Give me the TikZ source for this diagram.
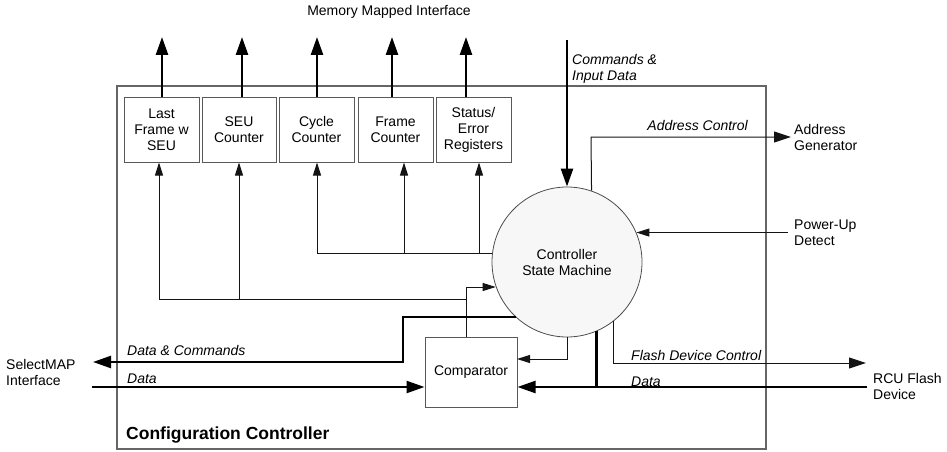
\documentclass[tikz,border=0pt]{standalone}
\usepackage{fontspec}
\setmainfont{Liberation Sans}
\usetikzlibrary{arrows.meta}
\begin{document}
\begin{tikzpicture}[x=1pt,y=-1pt,
  every node/.style={font=\fontsize{14}{16}\selectfont},
  regbox/.style={draw=black!65, line width=1pt, minimum width=75pt,
    minimum height=65pt, inner sep=0pt, align=center},
  txt/.style={inner sep=0pt, align=left},
  itxt/.style={inner sep=0pt, align=left, font=\fontsize{14}{16}\selectfont\itshape},
  wire/.style={draw=black!92, line width=1pt},
  bus/.style={draw=black, line width=2.4pt},
  tipS/.style={-{Triangle[length=13pt,width=8pt]}},
  tipM/.style={-{Triangle[length=17pt,width=11pt]}},
  tipL/.style={-{Triangle[length=18pt,width=12pt]}}
]
\useasboundingbox (0,0) rectangle (947,452);

% enclosing block
\node[draw=black!60, line width=1.3pt, minimum width=649pt, minimum height=363pt,
  inner sep=0pt] (frame) at (441.5,267.5) {};
\node[txt, anchor=west, font=\fontsize{17.5}{20}\selectfont\bfseries]
  (title) at (126,435) {Configuration Controller};

% registers
\node[regbox] (b1) at (161.5,129.5) {Last\\Frame w\\SEU};
\node[regbox, minimum width=74pt] (b2) at (239,129.5) {SEU\\Counter};
\node[regbox] (b3) at (316.5,129.5) {Cycle\\Counter};
\node[regbox] (b4) at (395.5,129.5) {Frame\\Counter};
\node[regbox] (b5) at (473.5,129.5) {Status/\\Error\\Registers};

% state machine and comparator
\node[circle, draw=black!70, fill=black!3, line width=0.8pt, minimum size=150pt,
  inner sep=0pt, align=center] (sm) at (567,262) {Controller\\State Machine};
\node[draw=black!65, line width=1pt, minimum width=92pt, minimum height=70pt,
  inner sep=0pt] (cmp) at (471,372) {Comparator};

% outside labels
\node[txt] (mmi) at (389,12) {Memory Mapped Interface};
\node[itxt, anchor=west] (cmdl) at (572,69) {Commands \&\\Input Data};
\node[itxt, anchor=east] (adcl) at (748,125) {Address Control};
\node[txt, anchor=west] (agen) at (794,137.5) {Address\\Generator};
\node[txt, anchor=west] (pud) at (794,232.5) {Power-Up\\Detect};
\node[txt, anchor=west] (smap) at (6,372) {SelectMAP\\Interface};
\node[txt, anchor=west] (rcu) at (873,386) {RCU Flash\\Device};
\node[itxt, anchor=west] (dcl) at (127,350) {Data \& Commands};
\node[itxt, anchor=west] (dinl) at (127,379) {Data};
\node[itxt, anchor=west] (fdcl) at (631,355) {Flash Device Control};
\node[itxt, anchor=west] (rdl) at (631,382) {Data};

% free ends and bends
\coordinate (m1) at (162,37);
\coordinate (m2) at (242,37);
\coordinate (m3) at (317,37);
\coordinate (m4) at (392,37);
\coordinate (m5) at (466,37);
\coordinate (cin) at (567,40);
\coordinate (k) at (466,287);
\coordinate (jc) at (466,299);
\coordinate (j1) at (159,299);
\coordinate (j2) at (239,299);
\coordinate (r3) at (317,253);
\coordinate (r4) at (404,253);
\coordinate (r5) at (479,253);
\coordinate (adr) at (591,137);
\coordinate (dcx) at (403,362);
\coordinate (dcend) at (93,362);
\coordinate (sdin) at (92,387);
\coordinate (cc) at (517,359);
\coordinate (fc) at (866,363);
\coordinate (rd) at (867,387);

% memory mapped outputs
\foreach \i in {1,...,5}
  \draw[bus, line width=2.6pt, tipL] (m\i |- b\i.north) -- (m\i);

% state machine to counters
\draw[wire, tipS] (r3 -| sm.173.1) -- (r3) -- (r3 |- b3.south);
\draw[wire, tipS] (r4) -- (r4 |- b4.south);
\draw[wire, tipS] (r5) -- (r5 |- b5.south);

% comparator result to state machine and SEU registers
\draw[wire, tipS] (cmp.north -| k) -- (k) -- (k -| sm.199.5);
\draw[wire, tipS] (jc) -- (j1) -- (j1 |- b1.south);
\draw[wire, tipS] (j2) -- (j2 |- b2.south);

% commands and external controls
\draw[bus, tipL] (cin) -- (sm.north);
\draw[wire, tipM, shorten >=3pt] (sm.71.3) -- (adr) -- (adr -| agen.west);
\draw[wire, tipS, shorten <=6pt] (pud.west |- sm.23.6) -- (sm.23.6);

% SelectMAP side
\draw[bus, tipL] (sm.227.2) -| (dcx) -- (dcend);
\draw[bus, tipL] (sdin) -- (cmp.west |- sdin);

% state machine to comparator
\draw[wire, tipS] (sm.south) |- (cc);

% flash device side
\draw[wire, tipM] (sm.308.8) |- (fc);
\draw[bus, tipL] (rd) -- (cmp.east |- rd);
\draw[bus] (sm.293.6) -- (sm.293.6 |- rd);
\end{tikzpicture}
\end{document}
